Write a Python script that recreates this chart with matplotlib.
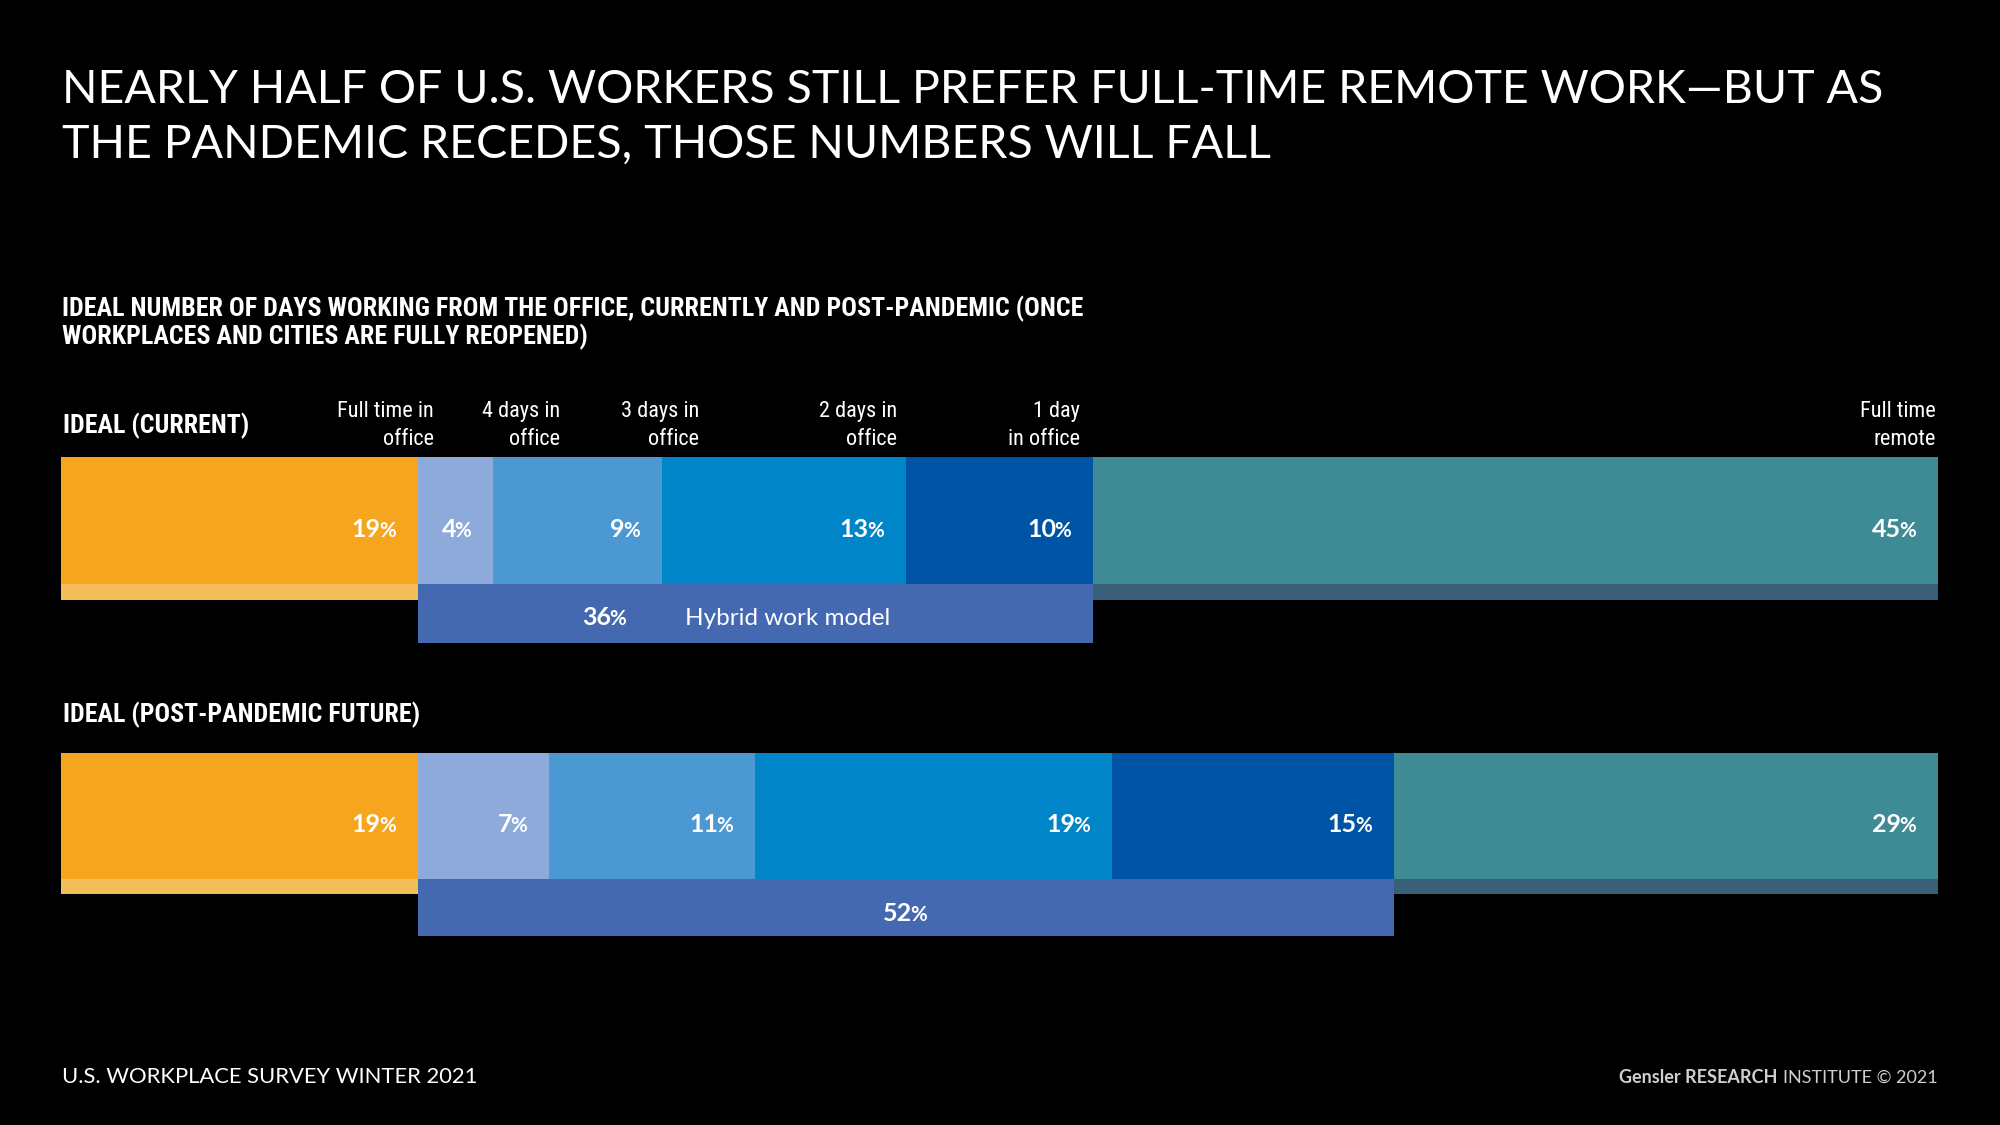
import numpy as np
import matplotlib
matplotlib.use('Agg')
import matplotlib.pyplot as plt
import matplotlib.font_manager as fm

# data
categories = ['Full time in\noffice', '4 days in\noffice', '3 days in\noffice',
              '2 days in\noffice', '1 day\nin office', 'Full time\nremote']
ideal_current = [19, 4, 9, 13, 10, 45]
ideal_future = [19, 7, 11, 19, 15, 29]
row_titles = ['IDEAL (CURRENT)', 'IDEAL (POST-PANDEMIC FUTURE)']

title_lines = ['NEARLY HALF OF U.S. WORKERS STILL PREFER FULL-TIME REMOTE WORK\u2014BUT AS',
               'THE PANDEMIC RECEDES, THOSE NUMBERS WILL FALL']
subtitle_lines = ['IDEAL NUMBER OF DAYS WORKING FROM THE OFFICE, CURRENTLY AND POST-PANDEMIC (ONCE',
                  'WORKPLACES AND CITIES ARE FULLY REOPENED)']

seg_colors = ['#F6A51F', '#8DAADA', '#4C98D3', '#0086C8', '#0054A5', '#3E8A95']
strip_colors = ['#F3BE5A', '#395F79']
hybrid_color = '#4569B1'

# fonts
avail = {f.name for f in fm.fontManager.ttflist}


def pick(*names):
    for n in names:
        if n in avail:
            return n
    return 'DejaVu Sans'


NARROW = pick('Liberation Sans Narrow', 'Roboto Condensed', 'Open Sans Condensed', 'Roboto')
LIGHT = pick('Lato', 'Open Sans', 'Roboto')
BODY = pick('Lato', 'Roboto', 'Open Sans')

W, H = 2000, 1125
fig = plt.figure(figsize=(20, 11.25), dpi=100, facecolor='black')
renderer = fig.canvas.get_renderer()

# bar axes: x in percent, y in pixels from the top
ax = fig.add_axes([61 / W, 0, 1877 / W, 1])
ax.set_xlim(0, 100)
ax.set_ylim(H, 0)
ax.axis('off')


def ftext(x, y, s, **kw):
    kw.setdefault('color', 'white')
    kw.setdefault('va', 'baseline')
    return fig.text(x / W, 1 - y / H, s, **kw)


def fit(t, width):
    w = t.get_window_extent(renderer).width
    t.set_fontsize(t.get_fontsize() * width / w)
    return t.get_fontsize()


def pct(x, y, value, size=18, anchor='right', pad=20, dx=0):
    """ number with a smaller % sign, bold white """
    kw = dict(xy=(x, y), textcoords='offset pixels', ha='left', va='baseline',
              color='white', fontweight='bold', family=BODY)
    num = ax.annotate(str(value), xytext=(0, 0), fontsize=size, **kw)
    sign = ax.annotate('%', xytext=(0, 0), fontsize=size * 0.82, **kw)
    wn = num.get_window_extent(renderer).width
    ws = sign.get_window_extent(renderer).width
    if anchor == 'right':
        left = -pad - ws - wn
    else:
        left = -(wn + ws) / 2 + dx
    num.xyann = (left, 0)
    sign.xyann = (left + wn - 2, 0)


# title
t = ftext(62, 103, title_lines[0], fontsize=36, family=LIGHT)
s = fit(t, 1823)
ftext(62, 158, title_lines[1], fontsize=s, family=LIGHT)

# subtitle
t = ftext(62, 316, subtitle_lines[0], fontsize=14, family=NARROW, fontweight='bold')
s = fit(t, 1024)
ftext(62, 344, subtitle_lines[1], fontsize=s, family=NARROW, fontweight='bold')

# row titles
t = ftext(63, 722, row_titles[1], fontsize=15, family=NARROW, fontweight='bold')
s = fit(t, 358)
ftext(63, 433, row_titles[0], fontsize=s, family=NARROW, fontweight='bold')

# category headers
header_right = [434, 560, 699, 897, 1080, 1936]
for cat, xr in zip(categories, header_right):
    for i, line in enumerate(cat.split('\n')):
        ftext(xr, 417 + 28 * i, line, fontsize=16, family=NARROW, ha='right')

# bars
rows = [
    dict(values=ideal_current, top=457, bottom=584, strip=600, box=643, base=537, hyb=625,
         note='Hybrid work model'),
    dict(values=ideal_future, top=753, bottom=879, strip=894, box=936, base=832, hyb=921,
         note=None),
]

for row in rows:
    v = np.array(row['values'])
    left = np.concatenate([[0], np.cumsum(v)[:-1]])
    top, bot, strip, box = row['top'], row['bottom'], row['strip'], row['box']

    ax.barh((top + bot) / 2, v, left=left, height=bot - top, color=seg_colors, linewidth=0)
    ax.barh((bot + strip) / 2, [v[0], v[-1]], left=[0, left[-1]], height=strip - bot,
            color=strip_colors, linewidth=0)
    hybrid = v[1:5].sum()
    ax.barh((bot + box) / 2, hybrid, left=v[0], height=box - bot, color=hybrid_color,
            linewidth=0)

    for val, l in zip(v, left):
        pct(l + val, row['base'], val)

    if row['note']:
        # "36%  Hybrid work model"
        pct(v[0], row['hyb'], hybrid, anchor='center', dx=187)
        ax.annotate(row['note'], xy=(v[0], row['hyb']), xytext=(267, 0),
                    textcoords='offset pixels', ha='left', va='baseline',
                    color='white', fontsize=17.5, family=BODY)
    else:
        pct(v[0] + hybrid / 2, row['hyb'], hybrid, anchor='center')

# footer
t = ftext(62, 1083, 'U.S. WORKPLACE SURVEY WINTER 2021', fontsize=16, family=BODY)
fit(t, 417)
reg = ftext(1938, 1083, 'INSTITUTE \u00a9 2021', fontsize=14, family=BODY,
            color='#cfcfcf', ha='right')
fit(reg, 155)
wr = reg.get_window_extent(renderer).width
ftext(1938 - wr - 6, 1083, 'Gensler RESEARCH', fontsize=reg.get_fontsize(), family=BODY,
      fontweight='bold', color='#cfcfcf', ha='right')

fig.savefig('out.png', dpi=100, facecolor='black')
